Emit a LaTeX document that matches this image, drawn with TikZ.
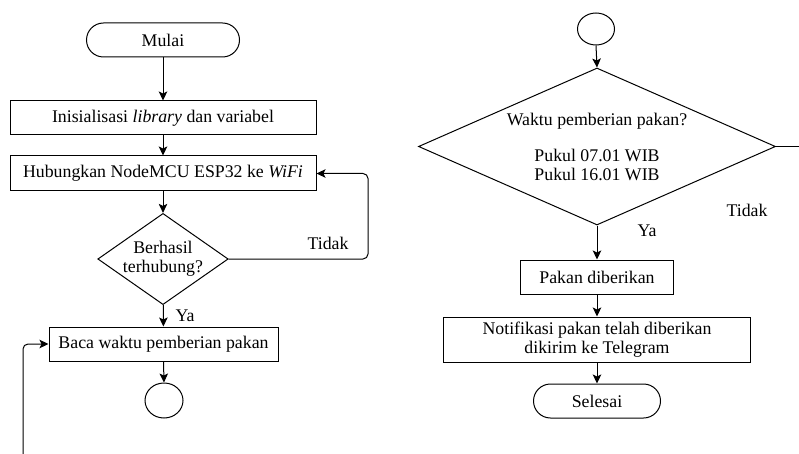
\documentclass[tikz,border=0pt]{standalone}
\usepackage{fontspec}
\newfontfamily\lserif{LiberationSerif}[Extension=.ttf, UprightFont=*-Regular, ItalicFont=*-Italic, BoldFont=*-Bold]
\usetikzlibrary{shapes.geometric,arrows.meta}
\begin{document}
\begin{tikzpicture}[x=1pt,y=-1pt,
  every node/.style={font=\lserif\fontsize{17.8}{19}\selectfont},
  base/.style={draw, line width=1pt, inner sep=0pt, align=center},
  term/.style={base, rectangle, rounded corners=17pt},
  proc/.style={base, rectangle},
  dec/.style={base, diamond},
  conn/.style={base, ellipse},
  lbl/.style={inner sep=0pt},
  arr/.style={line width=1pt, -{Stealth[length=9pt,width=8.5pt,inset=2pt]}},
  ln/.style={line width=1pt}
]
\useasboundingbox (0,0) rectangle (799,454);
% left column
\node[term, minimum width=153, minimum height=34] (mulai) at (163,40) {Mulai};
\node[proc, minimum width=306, minimum height=34] (init) at (163,118) {Inisialisasi \textit{library} dan variabel};
\node[proc, minimum width=306, minimum height=35] (hub) at (163,173.5) {Hubungkan NodeMCU ESP32 ke \textit{WiFi}};
\node[dec, minimum width=126, minimum height=88, aspect=1.43] (cek) at (163,259) {Berhasil\\terhubung?};
\node[proc, minimum width=229, minimum height=34] (baca) at (163.5,344) {Baca waktu pemberian pakan};
\node[conn, minimum width=38, minimum height=35] (c1) at (164,400.5) {};
\coordinate (t1) at (368,259);
\coordinate (lb) at (23,454);
\node[lbl] (tidak1) at (328,243) {Tidak};
\node[lbl] (ya1) at (185,316) {Ya};
\draw[arr] (mulai) -- (init);
\draw[arr] (init) -- (hub);
\draw[arr] (hub) -- (cek);
\draw[arr, rounded corners=5pt] (cek.east) -- (t1) |- (hub.east);
\draw[arr] (cek) -- (baca);
\draw[arr] (baca.south) -- (c1.north);
\draw[arr, rounded corners=5pt] (lb) |- (baca.west);
% right column
\node[conn, minimum width=37, minimum height=32] (c2) at (596,29) {};
\node[dec, minimum width=357, minimum height=157, aspect=2.27] (waktu) at (597,146.5) {Waktu pemberian pakan?\\[17pt]Pukul 07.01 WIB\\Pukul 16.01 WIB};
\node[proc, minimum width=153, minimum height=34] (beri) at (597,277) {Pakan diberikan};
\node[proc, minimum width=307, minimum height=45] (notif) at (597,339.5) {Notifikasi pakan telah diberikan\\dikirim ke Telegram};
\node[term, minimum width=127, minimum height=34] (selesai) at (597,401) {Selesai};
\coordinate (re) at (799,146.5);
\node[lbl] (tidak2) at (747,210) {Tidak};
\node[lbl] (ya2) at (647,231) {Ya};
\draw[arr] (c2.south) -- (waktu.north);
\draw[ln] (waktu.east) -- (re);
\draw[arr] (waktu.south) -- (beri.north);
\draw[arr] (beri) -- (notif);
\draw[arr] (notif) -- (selesai);
\end{tikzpicture}
\end{document}
